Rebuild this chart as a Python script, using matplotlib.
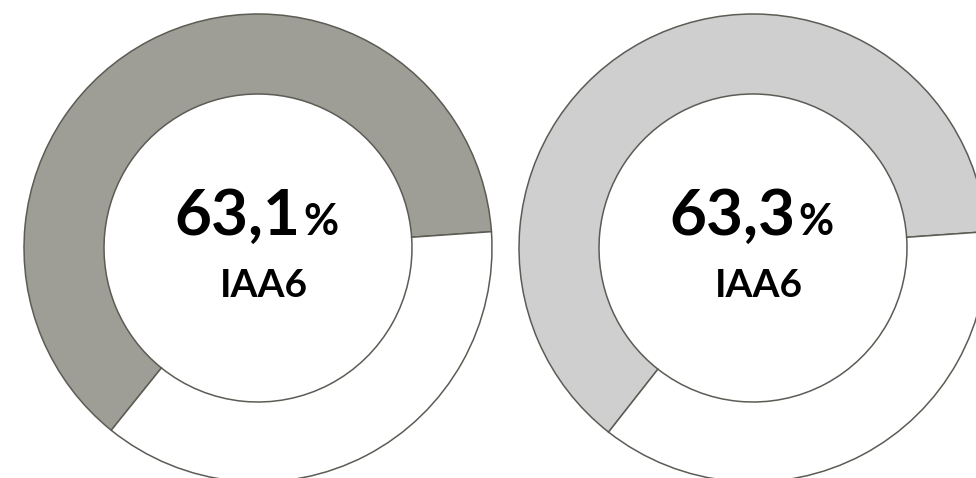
import matplotlib
matplotlib.use("Agg")
import matplotlib.pyplot as plt

# Data
values = [63.1, 63.3]
labels = ["63,1", "63,3"]
sublabels = ["IAA6", "IAA6"]
colors = ["#9e9e96", "#d0cfd0"]

W, H = 976, 478
fig = plt.figure(figsize=(W / 100, H / 100), dpi=100)
ax = fig.add_axes([0, 0, 1, 1])

centers = [(258, H - 248), (753, H - 248)]
R_out, ring = 234, 80
font = ["Lato", "DejaVu Sans"]

for v, lab, sub, col, (cx, cy) in zip(values, labels, sublabels, colors, centers):
    ax.pie([v, 100 - v], colors=[col, "white"], startangle=4, counterclock=True,
           center=(cx, cy), radius=R_out,
           wedgeprops=dict(width=ring, edgecolor="#5c5c55", linewidth=1.1))
    ax.text(cx + 42, cy + 13, lab, ha="right", va="baseline", fontsize=46,
            fontweight="bold", family=font, color="black")
    ax.text(cx + 45, cy + 13, "%", ha="left", va="baseline", fontsize=31,
            fontweight="bold", family=font, color="black")
    ax.text(cx + 6, cy - 49, sub, ha="center", va="baseline", fontsize=28,
            fontweight="bold", family=font, color="black")

ax.set_xlim(0, W)
ax.set_ylim(0, H)
ax.set_aspect("equal")
ax.axis("off")
fig.savefig("out.png", dpi=100)
